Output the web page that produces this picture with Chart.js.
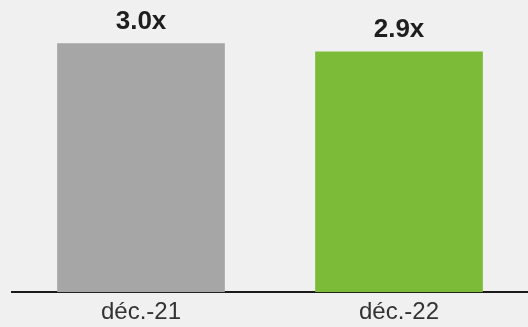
<!DOCTYPE html>
<html><head><meta charset="utf-8">
<script src="https://cdn.jsdelivr.net/npm/chart.js@4/dist/chart.umd.min.js"></script>
<style>
html,body{margin:0;padding:0;background:#f0f0f0;}
#wrap{width:528px;height:327px;position:relative;}
</style></head>
<body><div id="wrap"><canvas id="c" width="528" height="327"></canvas></div>
<script>
const categories = ["déc.-21", "déc.-22"];
const values = [3.0, 2.9];
const valueLabels = ["3.0x", "2.9x"];
const barColors = ["#a6a6a6", "#7cbb37"];

const valueLabelPlugin = {
  id: 'valueLabels',
  afterDatasetsDraw(chart) {
    const ctx = chart.ctx;
    const meta = chart.getDatasetMeta(0);
    ctx.save();
    ctx.font = 'bold 26px "Liberation Sans", Arial, sans-serif';
    ctx.fillStyle = '#1e1e1e';
    ctx.textAlign = 'center';
    ctx.textBaseline = 'alphabetic';
    meta.data.forEach((bar, i) => {
      ctx.fillText(valueLabels[i], bar.x, bar.y - 14);
    });
    ctx.restore();
  }
};

new Chart(document.getElementById('c'), {
  type: 'bar',
  data: {
    labels: categories,
    datasets: [{
      data: values,
      backgroundColor: barColors,
      borderWidth: 0,
      barPercentage: 0.65,
      categoryPercentage: 1.0
    }]
  },
  options: {
    responsive: false,
    animation: false,
    layout: { padding: { left: 12, right: -4, top: 0, bottom: -6 } },
    plugins: { legend: { display: false }, tooltip: { enabled: false } },
    scales: {
      x: {
        grid: { display: false, drawTicks: false },
        border: { display: true, color: '#1a1a1a', width: 2 },
        ticks: {
          color: '#333333',
          font: { family: '"Liberation Sans", Arial, sans-serif', size: 24 },
          padding: 6
        }
      },
      y: {
        display: false,
        min: 0,
        max: 3.52
      }
    }
  },
  plugins: [valueLabelPlugin]
});
</script>
</body></html>
